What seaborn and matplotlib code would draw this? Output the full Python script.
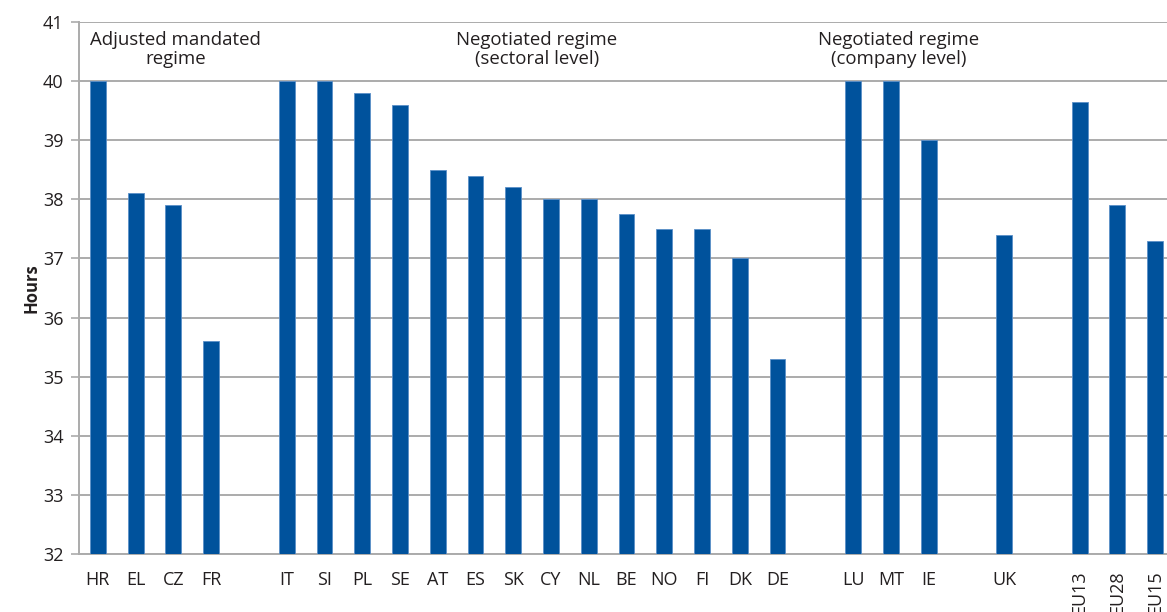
import matplotlib
matplotlib.use("Agg")
import matplotlib.pyplot as plt
import seaborn as sns
import pandas as pd
import numpy as np

# Slot order (blank slots are gaps between groups)
slots = ["HR", "EL", "CZ", "FR", "_g1",
         "IT", "SI", "PL", "SE", "AT", "ES", "SK", "CY", "NL", "BE", "NO", "FI", "DK", "DE", "_g2",
         "LU", "MT", "IE", "_g3", "UK", "_g4", "EU13", "EU28", "EU15"]

countries = ["HR", "EL", "CZ", "FR",
             "IT", "SI", "PL", "SE", "AT", "ES", "SK", "CY", "NL", "BE", "NO", "FI", "DK", "DE",
             "LU", "MT", "IE", "UK", "EU13", "EU28", "EU15"]
hours = [40.0, 38.1, 37.9, 35.6,
         40.0, 40.0, 39.8, 39.6, 38.5, 38.4, 38.2, 38.0, 38.0, 37.75, 37.5, 37.5, 37.0, 35.3,
         40.0, 40.0, 39.0, 37.4, 39.65, 37.9, 37.3]

group_labels = ["Adjusted mandated\nregime",
                "Negotiated regime\n(sectoral level)",
                "Negotiated regime\n(company level)"]

sns.set_theme(style="white")
plt.rcParams['font.family'] = ['Open Sans', 'DejaVu Sans']

df = pd.DataFrame({"country": countries, "hours": hours})
BASE = 32

fig = plt.figure(figsize=(11.67, 6.12), dpi=100)
ax = fig.add_axes([0.0677, 0.0948, 0.9383, 0.8693])

df["rel"] = df["hours"] - BASE
sns.barplot(data=df, x="country", y="rel", order=slots, color="#00529C",
            width=0.42, edgecolor="#5B8FC8", linewidth=0.6, ax=ax, bottom=BASE,
            saturation=1, zorder=3)

ax.set_ylim(32, 41)
ax.set_xlim(-0.5, len(slots) - 0.5)
ax.set_yticks(np.arange(32, 42, 1))
ax.yaxis.grid(True, color="#ABABAB", linewidth=1.4, zorder=0)
ax.set_axisbelow(True)

for s in ["top", "right"]:
    ax.spines[s].set_visible(False)
for s in ["left", "bottom"]:
    ax.spines[s].set_color("#ABABAB")
    ax.spines[s].set_linewidth(1.4)

txt_color = "#231F20"
labels = ["" if s.startswith("_") else s for s in slots]
ax.set_xticks(range(len(slots)))
ax.set_xticklabels(labels, fontsize=13, color=txt_color)
for lab in ax.get_xticklabels():
    if lab.get_text().startswith("EU"):
        lab.set_rotation(90)
        lab.set_va("top")
ax.tick_params(axis="x", which="major", length=0, pad=12)
ax.set_xticks(np.arange(-0.5, len(slots), 1), minor=True)
ax.tick_params(axis="x", which="minor", length=6, width=1.2, color="#ABABAB", direction="out")
ax.tick_params(axis="y", length=6, width=1.2, color="#ABABAB", labelsize=13,
               labelcolor=txt_color, pad=5, left=True)

ax.set_xlabel("")
ax.set_ylabel("Hours", fontsize=12, fontweight="bold", color=txt_color, labelpad=2)

group_x = [2.06, 11.63, 21.2]
for gx, gl in zip(group_x, group_labels):
    ax.text(gx, 40.53, gl, ha="center", va="center", fontsize=13.4,
            color=txt_color, linespacing=1.1, zorder=5)

fig.savefig("out.png", dpi=100)
